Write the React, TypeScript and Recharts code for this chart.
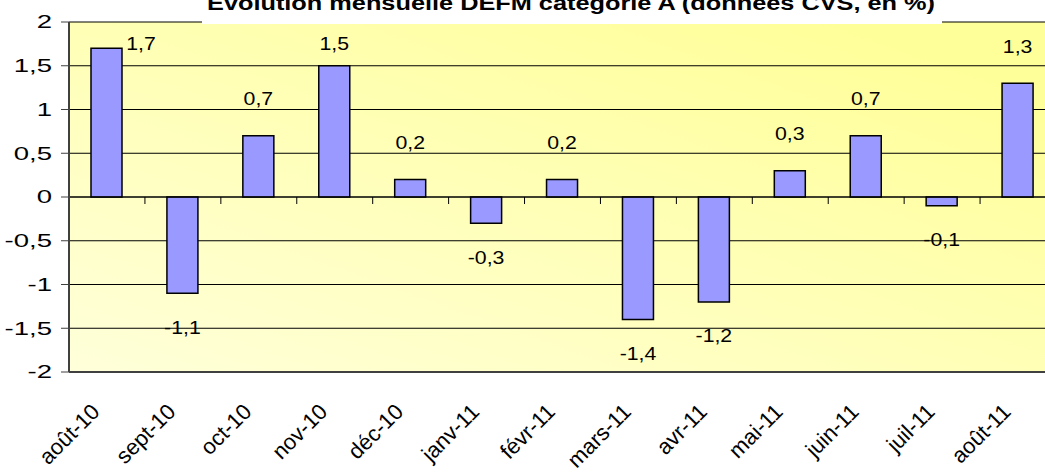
import React from "react";
import { BarChart, Bar, XAxis, YAxis, CartesianGrid, ReferenceLine, LabelList } from "recharts";

const months = ["août-10", "sept-10", "oct-10", "nov-10", "déc-10", "janv-11", "févr-11", "mars-11", "avr-11", "mai-11", "juin-11", "juil-11", "août-11"];
const changes = [1.7, -1.1, 0.7, 1.5, 0.2, -0.3, 0.2, -1.4, -1.2, 0.3, 0.7, -0.1, 1.3];
const yTicks = [-2, -1.5, -1, -0.5, 0, 0.5, 1, 1.5, 2];
const title = "Évolution mensuelle DEFM catégorie A (données CVS, en %)";

const data = months.map((month, i) => ({ month, value: changes[i] }));

const FONT = "'Liberation Sans', Arial, sans-serif";
const TOP = 22;
const fmt = (v: number) => String(v).replace(".", ",");

function MonthTick({ x, y, payload }: any) {
  const ax = x - 6;
  const ay = y + 33;
  return (
    <text transform={`translate(${ax}, ${ay}) rotate(-45)`} textAnchor="end" fontSize={22} fontFamily={FONT} fill="#000">
      {payload.value}
    </text>
  );
}

// the original picture is stretched sideways, so its upright text is wide
function ValueTick({ x, y, payload }: any) {
  return (
    <text transform={`translate(${x}, ${y}) scale(1.45, 1)`} textAnchor="end" dominantBaseline="central" fontSize={19} fontFamily={FONT} fill="#000">
      {fmt(payload.value)}
    </text>
  );
}

function ValueLabel({ x, y, width, height, value }: any) {
  const top = Math.min(y, y + height);
  const bottom = Math.max(y, y + height);
  let lx = x + width / 2;
  let ly;
  if (value >= 0) {
    ly = top - 37;
    if (ly < TOP + 22) {
      ly = TOP + 22;
      if (top < ly + 10) lx = x + width + 19;
    }
  } else {
    ly = bottom + 34;
  }
  return (
    <text transform={`translate(${lx}, ${ly}) scale(1.15, 1)`} textAnchor="middle" dominantBaseline="central" fontSize={18.5} fontFamily={FONT} fill="#000">
      {fmt(value)}
    </text>
  );
}

function ZeroLine({ x1, y1, x2 }: any) {
  const step = (x2 - x1) / months.length;
  return (
    <g>
      <line x1={x1} y1={y1} x2={x2} y2={y1} stroke="#000" strokeWidth={1} />
      {months.slice(1).map((m, i) => (
        <line key={m} x1={x1 + (i + 1) * step} y1={y1} x2={x1 + (i + 1) * step} y2={y1 + 7} stroke="#000" strokeWidth={1} />
      ))}
    </g>
  );
}

export default function App() {
  return (
    <div style={{ position: "absolute", left: 0, top: 0, width: 1045, height: 472, overflow: "hidden", background: "#fff" }}>
      <BarChart width={1060} height={472} data={data} margin={{ top: TOP, right: 4, bottom: 0, left: 0 }}>
        <defs>
          <linearGradient id="plotBg" x1="0" y1="1" x2="1" y2="0">
            <stop offset="0%" stopColor="#FFFFDA" />
            <stop offset="90%" stopColor="#FFFF99" />
          </linearGradient>
        </defs>
        <CartesianGrid vertical={false} stroke="#000" fill="url(#plotBg)" fillOpacity={1} />
        <XAxis dataKey="month" interval={0} height={100} axisLine={{ stroke: "#404040", strokeWidth: 2 }} tickLine={false} tick={<MonthTick />} />
        <YAxis
          domain={[-2, 2]}
          ticks={yTicks}
          width={69}
          tickSize={8}
          tickMargin={9}
          axisLine={{ stroke: "#404040", strokeWidth: 2 }}
          tickLine={{ stroke: "#404040" }}
          tick={<ValueTick />}
        />
        <Bar dataKey="value" fill="#9999FF" stroke="#000" strokeWidth={1.5} barSize={31} isAnimationActive={false}>
          <LabelList dataKey="value" content={<ValueLabel />} />
        </Bar>
        <ReferenceLine y={0} shape={<ZeroLine />} />
      </BarChart>
      <svg width={1045} height={30} style={{ position: "absolute", left: 0, top: 0 }}>
        <rect x={202} y={0} width={740} height={24} fill="#fff" />
        <text x={571} y={10} textAnchor="middle" fontSize={20} fontWeight="bold" fontFamily={FONT} textLength={728} lengthAdjust="spacingAndGlyphs" fill="#000">
          {title}
        </text>
      </svg>
    </div>
  );
}
